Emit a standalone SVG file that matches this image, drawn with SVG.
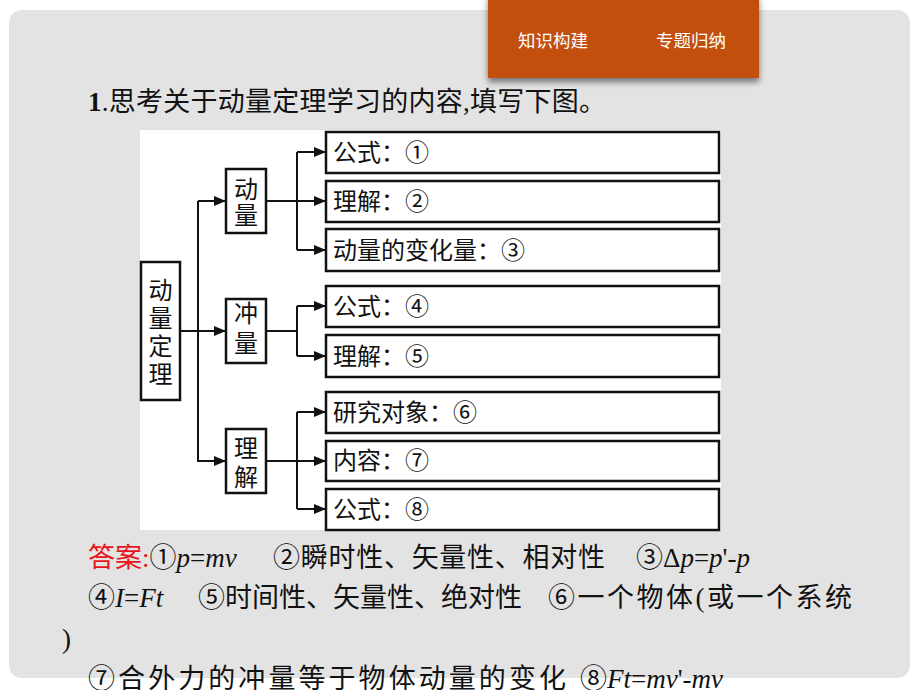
<svg xmlns="http://www.w3.org/2000/svg" width="920" height="690" viewBox="0 0 920 690">
<defs>
<style>
.cn{font-family:"Liberation Serif","Noto Sans CJK SC",serif;fill:#111}
.box{fill:#fff;stroke:#111;stroke-width:2.5}
.bt{font-family:"Noto Sans CJK SC",sans-serif;font-size:24px;fill:#111}
.ln{fill:none;stroke:#111;stroke-width:2}
.ans{font-family:"Liberation Serif","Noto Sans CJK SC",serif;font-size:27px;fill:#111}
.num{font-family:"Liberation Sans","Noto Sans CJK SC",sans-serif}
.it{font-style:italic;font-family:"Liberation Serif",serif}
.tab{font-family:"Noto Sans CJK SC",sans-serif;font-size:17.5px;fill:#fff}
</style>
<marker id="arr" markerUnits="userSpaceOnUse" markerWidth="12" markerHeight="10" refX="12" refY="5" orient="auto">
<path d="M0,0 L12,5 L0,10 Z" fill="#111"/>
</marker>
<filter id="sh" x="-10%" y="-20%" width="120%" height="160%">
<feGaussianBlur in="SourceAlpha" stdDeviation="3"/>
<feOffset dy="4"/>
<feComponentTransfer><feFuncA type="linear" slope="0.5"/></feComponentTransfer>
<feMerge><feMergeNode/><feMergeNode in="SourceGraphic"/></feMerge>
</filter>
</defs>
<rect width="920" height="690" fill="#fff"/>
<rect x="9" y="10" width="901" height="668" rx="13" fill="#e3e3e3"/>
<g id="tab">
<rect x="488" y="-5" width="271" height="83" fill="#c2500c" filter="url(#sh)"/>
<text class="tab" x="518" y="47">知识构建</text>
<text class="tab" x="656" y="47">专题归纳</text>
</g>
<text class="cn" x="88" y="111" font-size="27" textLength="518" lengthAdjust="spacing"><tspan font-weight="bold">1</tspan>.思考关于动量定理学习的内容,填写下图。</text>
<rect x="140" y="130" width="581" height="400" fill="#fff"/>
<g id="connectors">
<path class="ln" d="M180,331 H198 M198,201 V462"/>
<path class="ln" marker-end="url(#arr)" d="M198,201 H226"/>
<path class="ln" marker-end="url(#arr)" d="M198,331 H226"/>
<path class="ln" marker-end="url(#arr)" d="M198,461 H226"/>
<path class="ln" d="M266,201 H297 M297,152 V250"/>
<path class="ln" marker-end="url(#arr)" d="M297,152 H326"/>
<path class="ln" marker-end="url(#arr)" d="M297,201 H326"/>
<path class="ln" marker-end="url(#arr)" d="M297,250 H326"/>
<path class="ln" d="M266,331 H297 M297,306 V356"/>
<path class="ln" marker-end="url(#arr)" d="M297,306 H326"/>
<path class="ln" marker-end="url(#arr)" d="M297,356 H326"/>
<path class="ln" d="M266,461 H297 M297,412 V509"/>
<path class="ln" marker-end="url(#arr)" d="M297,412 H326"/>
<path class="ln" marker-end="url(#arr)" d="M297,461 H326"/>
<path class="ln" marker-end="url(#arr)" d="M297,509 H326"/>
</g>
<g id="root">
<rect class="box" x="141" y="262" width="39" height="138"/>
<text class="bt" text-anchor="middle"><tspan x="160.5" y="299">动</tspan><tspan x="160.5" y="327">量</tspan><tspan x="160.5" y="355">定</tspan><tspan x="160.5" y="383">理</tspan></text>
</g>
<g id="momentum">
<rect class="box" x="226" y="169" width="40" height="64"/>
<text class="bt" text-anchor="middle"><tspan x="246" y="198">动</tspan><tspan x="246" y="224">量</tspan></text>
</g>
<g id="impulse">
<rect class="box" x="226" y="299" width="40" height="64"/>
<text class="bt" text-anchor="middle"><tspan x="246" y="322">冲</tspan><tspan x="246" y="352">量</tspan></text>
</g>
<g id="theorem">
<rect class="box" x="226" y="429" width="40" height="64"/>
<text class="bt" text-anchor="middle"><tspan x="246" y="457">理</tspan><tspan x="246" y="486">解</tspan></text>
</g>
<g id="b1"><rect class="box" x="326" y="132" width="393" height="41"/><text class="bt" x="333" y="161">公式：①</text></g>
<g id="b2"><rect class="box" x="326" y="181" width="393" height="41"/><text class="bt" x="333" y="210">理解：②</text></g>
<g id="b3"><rect class="box" x="326" y="229" width="393" height="42"/><text class="bt" x="333" y="259">动量的变化量：③</text></g>
<g id="b4"><rect class="box" x="326" y="286" width="393" height="41"/><text class="bt" x="333" y="315">公式：④</text></g>
<g id="b5"><rect class="box" x="326" y="335" width="393" height="42"/><text class="bt" x="333" y="365">理解：⑤</text></g>
<g id="b6"><rect class="box" x="326" y="392" width="393" height="41"/><text class="bt" x="333" y="421">研究对象：⑥</text></g>
<g id="b7"><rect class="box" x="326" y="441" width="393" height="40"/><text class="bt" x="333" y="469">内容：⑦</text></g>
<g id="b8"><rect class="box" x="326" y="489" width="393" height="41"/><text class="bt" x="333" y="518">公式：⑧</text></g>
<g id="answers">
<text class="ans" x="88" y="567"><tspan fill="#e8141b">答案:</tspan><tspan class="num">①</tspan><tspan class="it">p</tspan>=<tspan class="it">mv</tspan></text>
<text class="ans" x="273" y="567" textLength="332" lengthAdjust="spacing"><tspan class="num">②</tspan>瞬时性、矢量性、相对性</text>
<text class="ans" x="636" y="567"><tspan class="num">③</tspan>Δ<tspan class="it">p</tspan>=<tspan class="it">p</tspan>'-<tspan class="it">p</tspan></text>
<text class="ans" x="88" y="607"><tspan class="num">④</tspan><tspan class="it">I</tspan>=<tspan class="it">Ft</tspan></text>
<text class="ans" x="198" y="607" textLength="324" lengthAdjust="spacing"><tspan class="num">⑤</tspan>时间性、矢量性、绝对性</text>
<text class="ans" x="548" y="607" textLength="304" lengthAdjust="spacing"><tspan class="num">⑥</tspan>一个物体(或一个系统</text>
<text class="ans" x="62" y="648">)</text>
<text class="ans" x="88" y="688" textLength="478" lengthAdjust="spacing"><tspan class="num">⑦</tspan>合外力的冲量等于物体动量的变化</text>
<text class="ans" x="580" y="688"><tspan class="num">⑧</tspan><tspan class="it">Ft</tspan>=<tspan class="it">mv</tspan>'-<tspan class="it">mv</tspan></text>
</g>
</svg>
